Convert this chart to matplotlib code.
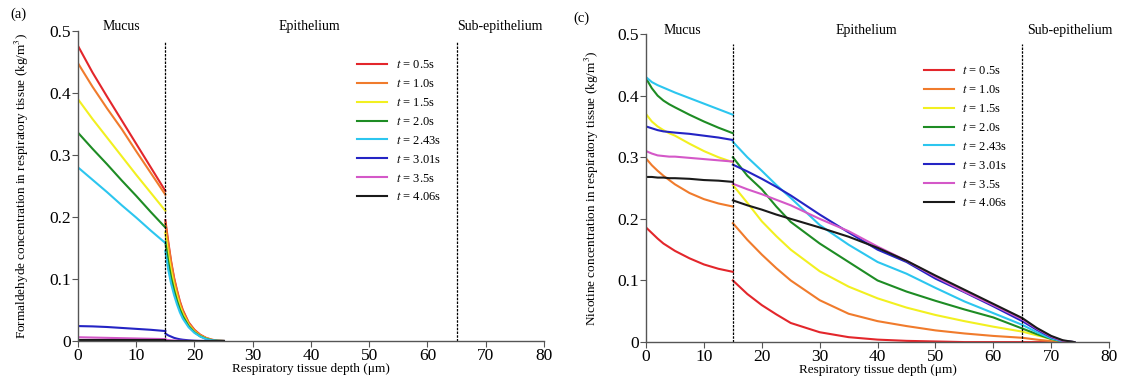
import matplotlib
matplotlib.use("Agg")
import matplotlib.pyplot as plt

plt.rcParams['font.family'] = ['Liberation Serif', 'DejaVu Serif']
plt.rcParams['mathtext.fontset'] = 'stix'

labels = ["0.5s", "1.0s", "1.5s", "2.0s", "2.43s", "3.01s", "3.5s", "4.06s"]
colors = ["#e3262b", "#f07b2c", "#f2f020", "#1e8c24", "#2cc6ef", "#2424c4", "#d458c8", "#1a1a1a"]

# (a) formaldehyde
fa_x_mucus = [0, 2.5, 5, 7.5, 10, 12.5, 15]
fa_mucus = [
    [0.476, 0.433, 0.394, 0.356, 0.318, 0.28, 0.242],
    [0.448, 0.41, 0.375, 0.342, 0.306, 0.271, 0.236],
    [0.39, 0.358, 0.328, 0.298, 0.268, 0.239, 0.21],
    [0.336, 0.31, 0.285, 0.259, 0.234, 0.208, 0.183],
    [0.28, 0.26, 0.24, 0.219, 0.199, 0.178, 0.158],
    [0.024, 0.0235, 0.0225, 0.021, 0.0195, 0.018, 0.016],
    [0.006, 0.0055, 0.005, 0.0045, 0.004, 0.0035, 0.003],
    [0.0008, 0.0008, 0.0008, 0.0008, 0.0008, 0.0008, 0.0008],
]
fa_x_epi = [15, 15.5, 16, 16.5, 17, 17.5, 18, 19, 20, 21, 22, 23, 24, 25]
fa_epi = [
    [0.195, 0.16, 0.128, 0.102, 0.082, 0.064, 0.05, 0.03, 0.018, 0.01, 0.005, 0.002, 0.0005, 0],
    [0.19, 0.157, 0.126, 0.1, 0.08, 0.062, 0.048, 0.029, 0.017, 0.0095, 0.0045, 0.0018, 0.0004, 0],
    [0.175, 0.14, 0.113, 0.09, 0.072, 0.056, 0.044, 0.026, 0.015, 0.008, 0.004, 0.0015, 0.0003, 0],
    [0.16, 0.128, 0.102, 0.082, 0.065, 0.051, 0.04, 0.024, 0.014, 0.0075, 0.0035, 0.0013, 0.0003, 0],
    [0.145, 0.115, 0.092, 0.074, 0.059, 0.046, 0.036, 0.022, 0.013, 0.007, 0.003, 0.001, 0.0002, 0],
    [0.012, 0.009, 0.007, 0.005, 0.0037, 0.0027, 0.002, 0.001, 0.0004, 0, 0, 0, 0, 0],
    [0.002, 0.0015, 0.001, 0.0007, 0.0005, 0.0003, 0.0002, 0, 0, 0, 0, 0, 0, 0],
    [0, 0, 0, 0, 0, 0, 0, 0, 0, 0, 0, 0, 0, 0],
]

# (c) nicotine
ni_x_mucus = [0, 1, 2, 3, 4, 5, 7.5, 10, 12.5, 15]
ni_mucus = [
    [0.186, 0.177, 0.168, 0.16, 0.154, 0.148, 0.136, 0.126, 0.119, 0.114],
    [0.298, 0.287, 0.278, 0.27, 0.263, 0.256, 0.242, 0.232, 0.225, 0.22],
    [0.37, 0.358, 0.35, 0.344, 0.339, 0.335, 0.322, 0.31, 0.3, 0.292],
    [0.428, 0.412, 0.4, 0.392, 0.386, 0.381, 0.369, 0.358, 0.348, 0.339],
    [0.43, 0.422, 0.417, 0.413, 0.409, 0.405, 0.396, 0.387, 0.378, 0.369],
    [0.35, 0.347, 0.344, 0.342, 0.341, 0.34, 0.338, 0.335, 0.332, 0.328],
    [0.31, 0.306, 0.303, 0.302, 0.301, 0.301, 0.299, 0.297, 0.295, 0.293],
    [0.268, 0.268, 0.267, 0.267, 0.266, 0.266, 0.265, 0.263, 0.262, 0.26],
]
ni_x_epi = [15, 17.5, 20, 22.5, 25, 30, 35, 40, 45, 50, 55, 60, 65, 67.5, 70, 72, 74]
ni_epi = [
    [0.1, 0.078, 0.06, 0.045, 0.031, 0.016, 0.008, 0.004, 0.002, 0.001, 0, 0, 0, 0, 0, 0, 0],
    [0.193, 0.166, 0.142, 0.12, 0.1, 0.068, 0.046, 0.034, 0.026, 0.019, 0.014, 0.01, 0.007, 0.004, 0.0015, 0, 0],
    [0.255, 0.226, 0.196, 0.172, 0.15, 0.115, 0.09, 0.071, 0.056, 0.044, 0.034, 0.025, 0.017, 0.011, 0.005, 0.001, 0],
    [0.30, 0.27, 0.248, 0.22, 0.195, 0.16, 0.13, 0.10, 0.082, 0.067, 0.053, 0.04, 0.022, 0.013, 0.005, 0.001, 0],
    [0.325, 0.3, 0.278, 0.255, 0.234, 0.19, 0.158, 0.13, 0.111, 0.088, 0.066, 0.047, 0.028, 0.016, 0.006, 0.001, 0],
    [0.288, 0.277, 0.265, 0.252, 0.238, 0.207, 0.178, 0.15, 0.13, 0.103, 0.081, 0.058, 0.034, 0.02, 0.008, 0.002, 0],
    [0.257, 0.248, 0.24, 0.231, 0.222, 0.2, 0.18, 0.155, 0.132, 0.106, 0.082, 0.06, 0.037, 0.022, 0.009, 0.002, 0],
    [0.23, 0.222, 0.215, 0.207, 0.2, 0.186, 0.171, 0.153, 0.132, 0.108, 0.085, 0.062, 0.039, 0.023, 0.01, 0.003, 0],
]

fig = plt.figure(figsize=(11.22, 3.78), dpi=100)
ax1 = fig.add_axes([0.0695, 0.098, 0.4153, 0.82])
ax2 = fig.add_axes([0.5758, 0.095, 0.4127, 0.815])


def draw(ax, xm, ym, xe, ye, ylabel, legx, legy, lpad):
    for i in range(len(labels)):
        ax.plot(xm, ym[i], color=colors[i], lw=1.5, label="$t$ = " + labels[i])
        ax.plot(xe, ye[i], color=colors[i], lw=1.5)
    for xv in (15, 65):
        ax.plot([xv, xv], [0, 0.484], color="black", lw=0.9, ls=(0, (2, 1)))
    ax.set_xlim(0, 80)
    ax.set_ylim(0, 0.5)
    ax.set_xticks(range(0, 81, 10))
    ax.set_yticks([0, 0.1, 0.2, 0.3, 0.4, 0.5])
    ax.set_yticklabels(["0", "0.1", "0.2", "0.3", "0.4", "0.5"])
    for s in ("top", "right"):
        ax.spines[s].set_visible(False)
    for s in ("left", "bottom"):
        ax.spines[s].set_color("#555555")
        ax.spines[s].set_linewidth(1.0)
    ax.tick_params(labelsize=12.5, length=4, color="#555555", pad=1)
    ax.set_xlabel("Respiratory tissue depth (μm)", fontsize=9.5, labelpad=-1)
    ax.set_ylabel(ylabel, fontsize=9.5, labelpad=lpad)
    ax.legend(loc="upper left", bbox_to_anchor=(legx, legy), frameon=False,
              fontsize=9, handlelength=2.4, labelspacing=0.55, handletextpad=0.7)


draw(ax1, fa_x_mucus, fa_mucus, fa_x_epi, fa_epi,
     "Formaldehyde concentration in respiratory tissue (kg/m$^3$)", 0.575, 0.945, 13)
draw(ax2, ni_x_mucus, ni_mucus, ni_x_epi, ni_epi,
     "Nicotine concentration in respiratory tissue (kg/m$^3$)", 0.575, 0.935, 12)

for ax, yv, pos in ((ax1, 0.508, (7.4, 39.8, 72.4)), (ax2, 0.506, (6.2, 38.0, 73.2))):
    for xv, name in zip(pos, ("Mucus", "Epithelium", "Sub-epithelium")):
        ax.text(xv, yv, name, ha="center", va="center", fontsize=10)

fig.text(0.009, 0.962, "(a)", fontsize=10.5, va="center")
fig.text(0.511, 0.952, "(c)", fontsize=10.5, va="center")

fig.savefig("out.png", dpi=100)
